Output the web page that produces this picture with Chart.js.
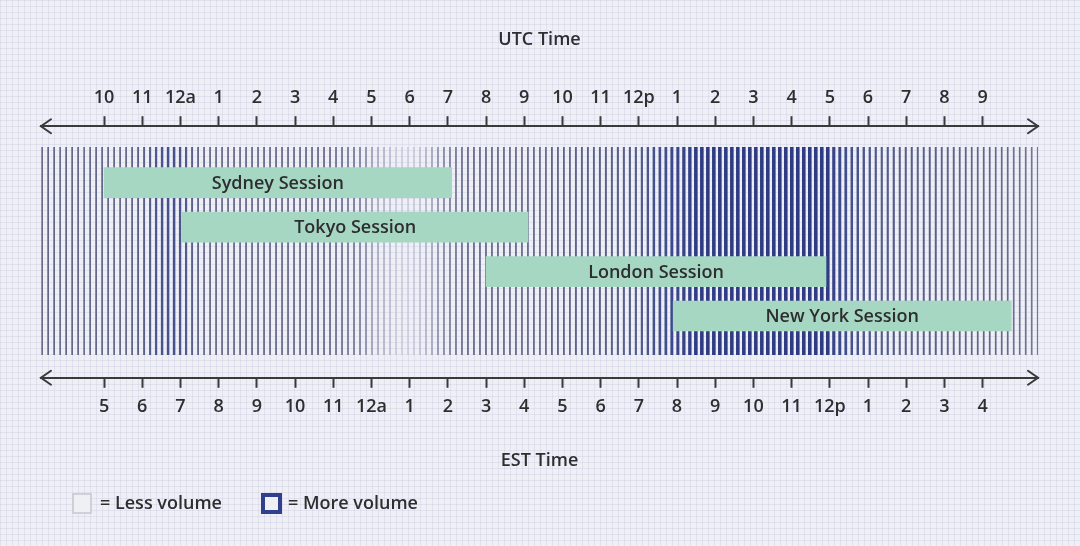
<!DOCTYPE html>
<html>
<head>
<meta charset="utf-8">
<script src="https://cdn.jsdelivr.net/npm/chart.js@4.4.1/dist/chart.umd.min.js"></script>
<style>
  html, body { margin: 0; padding: 0; }
  body {
    width: 1080px; height: 546px; overflow: hidden;
    background-color: #eef0f6;
    background-image:
      linear-gradient(rgba(150, 155, 195, 0.16) 1px, transparent 1px),
      linear-gradient(90deg, rgba(150, 155, 195, 0.16) 1px, transparent 1px);
    background-size: 6px 6px;
  }
  #wrap { position: relative; width: 1080px; height: 546px; }
</style>
</head>
<body>
<div id="wrap"><canvas id="sessions"></canvas></div>
<script>
// sessions, in hours counted from 00:00 UTC of the first day (22 = 10pm UTC)
const sessionNames = ['Sydney Session', 'Tokyo Session', 'London Session', 'New York Session'];
const sessionStart = [22, 24.05, 32, 36.9];
const sessionEnd = [31.1, 33.1, 40.9, 45.75];
const sessionRow = [1, 2, 3, 4];

// hour ticks and their labels on both clocks
const tickHours = [22, 23, 24, 25, 26, 27, 28, 29, 30, 31, 32, 33, 34, 35, 36, 37, 38, 39, 40, 41, 42, 43, 44, 45];
const utcLabels = ['10', '11', '12a', '1', '2', '3', '4', '5', '6', '7', '8', '9', '10', '11', '12p', '1', '2', '3', '4', '5', '6', '7', '8', '9'];
const estLabels = ['5', '6', '7', '8', '9', '10', '11', '12a', '1', '2', '3', '4', '5', '6', '7', '8', '9', '10', '11', '12p', '1', '2', '3', '4'];

// trading volume, one value per stripe (1 = least, 5 = most)
const volume = [
  2.9, 3, 3, 2.9, 3, 3, 3, 2.9, 3, 3, 3, 3, 3, 3, 3, 3.1, 3.2,
  3.3, 3.5,
  3.7, 3.9, 4.0, 4.0, 3.8, 3.6,
  3.3, 3.1, 3, 3, 3, 3, 3, 3, 3, 3, 3, 3, 3, 3, 3, 3, 3, 3, 3, 3, 3, 3, 3, 3, 2.9, 2.9, 2.8, 2.8, 2.7,
  2.5, 2.2, 2.0, 1.8, 1.6,
  1.3, 1.2, 1.2, 1.3, 1.5,
  1.8, 2.1, 2.4,
  2.6, 2.7, 2.8, 2.9, 3, 3, 3,
  3, 3, 3, 3, 3, 3, 3, 3, 3, 3, 3, 3.1, 3.1, 3.1, 3.1, 3.2, 3.2, 3.2, 3.2, 3.3, 3.3, 3.3, 3.4, 3.4, 3.5, 3.5,
  3.6, 3.8, 4, 4.1, 4.2, 4.4, 4.5, 4.7, 4.8,
  5, 5, 5, 5, 5, 5, 5, 5, 5, 5, 5, 5, 5, 5, 5, 5, 5, 5, 5, 5, 5, 5, 5,
  4.6, 4.4, 4.2, 4, 3.9, 3.8, 3.7,
  3.6, 3.5, 3.5, 3.5, 3.4, 3.4, 3.4, 3.3, 3.3, 3.3, 3.3, 3.2, 3.2, 3.2, 3.1,
  3.1, 3, 3, 3, 3, 2.9, 2.9, 2.9, 2.8, 2.8, 2.8, 2.7, 2.7
];
const stripeStart = 20.38;
const stripeStep = 0.157;
const stripeRow = 2.54;

const legendLabels = ['= Less volume', '= More volume'];

const ink = '#2e2e30';
const barColor = '#a5d7c3';
const labelFont = '600 18px "Open Sans", "Noto Sans", sans-serif';
const volumeRgb = [[202, 205, 222], [152, 156, 182], [98, 102, 134], [70, 82, 142], [47, 60, 132]];
const volumeWidth = [1.2, 1.4, 1.7, 2.5, 3.6];

function volumeStyle(v) {
  const t = Math.min(Math.max(v - 1, 0), 4);
  const i = Math.min(Math.floor(t), 3);
  const f = t - i;
  const c = volumeRgb[i].map((a, k) => Math.round(a + (volumeRgb[i + 1][k] - a) * f));
  return {
    color: 'rgb(' + c.join(',') + ')',
    width: volumeWidth[i] + (volumeWidth[i + 1] - volumeWidth[i]) * f
  };
}

Chart.defaults.font.family = '"Open Sans", "Noto Sans", sans-serif';
Chart.defaults.font.size = 18;
Chart.defaults.font.weight = 600;
Chart.defaults.color = ink;

function arrow(ctx, x, y, dir) {
  ctx.beginPath();
  ctx.moveTo(x + dir * 10, y - 7);
  ctx.lineTo(x, y);
  ctx.lineTo(x + dir * 10, y + 7);
  ctx.stroke();
}

const extras = {
  id: 'extras',
  afterDatasetsDraw(chart) {
    const ctx = chart.ctx;
    const meta = chart.getDatasetMeta(0);
    ctx.save();
    ctx.fillStyle = ink;
    ctx.font = labelFont;
    ctx.textAlign = 'center';
    ctx.textBaseline = 'middle';
    meta.data.forEach((bar, i) => {
      ctx.fillText(sessionNames[i], (bar.x + bar.base) / 2, bar.y + 1);
    });
    ctx.restore();
  },
  afterDraw(chart) {
    const {ctx, chartArea} = chart;
    ctx.save();
    ctx.strokeStyle = '#3a3a3c';
    ctx.lineWidth = 2;
    ctx.lineCap = 'round';
    [chartArea.top, chartArea.bottom].forEach(y => {
      arrow(ctx, chartArea.left, y, 1);
      arrow(ctx, chartArea.right, y, -1);
    });

    // legend
    const y = chart.height - 43;
    const x0 = chartArea.left + 32;
    ctx.lineCap = 'butt';
    ctx.fillStyle = '#eef0f4';
    ctx.strokeStyle = '#c4c6d0';
    ctx.lineWidth = 1.5;
    ctx.fillRect(x0, y - 9, 18, 19);
    ctx.strokeRect(x0, y - 9, 18, 19);
    ctx.strokeStyle = '#30408a';
    ctx.lineWidth = 4;
    ctx.fillRect(x0 + 190, y - 8, 17, 17);
    ctx.strokeRect(x0 + 190, y - 8, 17, 17);
    ctx.fillStyle = ink;
    ctx.font = labelFont;
    ctx.textBaseline = 'middle';
    ctx.fillText(legendLabels[0], x0 + 27, y + 1);
    ctx.fillText(legendLabels[1], x0 + 215, y + 1);
    ctx.restore();
  }
};

function hourAxis(position, labels, title, titlePadding) {
  return {
    type: 'linear',
    position: position,
    min: 20.35,
    max: 46.45,
    afterBuildTicks: scale => { scale.ticks = tickHours.map(h => ({value: h})); },
    ticks: {
      autoSkip: false,
      maxRotation: 0,
      padding: 8,
      color: ink,
      callback: (value, index) => labels[index]
    },
    grid: {
      display: true,
      drawOnChartArea: false,
      drawTicks: true,
      tickLength: 10,
      tickColor: '#3a3a3c',
      tickWidth: 2
    },
    border: {display: true, color: '#3a3a3c', width: 2},
    title: {
      display: true,
      text: title,
      color: ink,
      padding: titlePadding
    }
  };
}

new Chart(document.getElementById('sessions'), {
  type: 'bar',
  data: {
    datasets: [{
      type: 'bar',
      label: 'Sessions',
      indexAxis: 'y',
      data: sessionRow.map((r, i) => ({y: r, x: [sessionStart[i], sessionEnd[i]]})),
      backgroundColor: barColor,
      borderWidth: 0,
      barThickness: 30,
      xAxisID: 'x',
      yAxisID: 'y',
      order: 0
    }, {
      type: 'scatter',
      label: 'Volume',
      data: volume.map((v, i) => ({x: stripeStart + i * stripeStep, y: stripeRow})),
      pointStyle: 'line',
      pointRotation: 90,
      pointRadius: 104,
      pointBorderColor: ctx => volumeStyle(volume[ctx.dataIndex]).color,
      pointBorderWidth: ctx => volumeStyle(volume[ctx.dataIndex]).width,
      xAxisID: 'x',
      yAxisID: 'y',
      order: 1
    }]
  },
  options: {
    responsive: true,
    maintainAspectRatio: false,
    animation: false,
    events: [],
    indexAxis: 'y',
    layout: {autoPadding: false, padding: {left: 41, right: 42, top: 0, bottom: 74}},
    plugins: {
      legend: {display: false},
      tooltip: {enabled: false}
    },
    scales: {
      x: hourAxis('top', utcLabels, 'UTC Time', {top: 29, bottom: 28}),
      x2: hourAxis('bottom', estLabels, 'EST Time', {top: 25, bottom: 0}),
      y: {
        type: 'linear',
        display: false,
        reverse: true,
        offset: false,
        min: -0.27,
        max: 5.39
      }
    }
  },
  plugins: [extras]
});
</script>
</body>
</html>
